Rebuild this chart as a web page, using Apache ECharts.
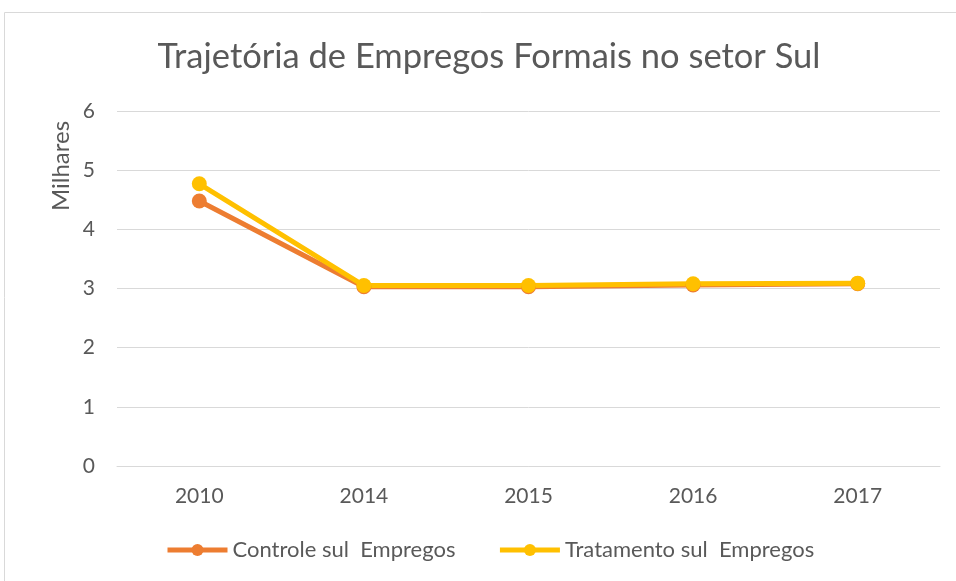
<!DOCTYPE html>
<html><head><meta charset="utf-8">
<script src="https://cdn.jsdelivr.net/npm/echarts@6/dist/echarts.min.js"></script>
<style>html,body{margin:0;padding:0;background:#fff}#c{width:956px;height:581px}</style>
</head><body><div id="c"></div>
<script>
const categories = ['2010','2014','2015','2016','2017'];
const controle = [4.48, 3.03, 3.03, 3.06, 3.08];
const tratamento = [4.77, 3.05, 3.05, 3.08, 3.09];
const yTicks = [0,1,2,3,4,5,6];

const chart = echarts.init(document.getElementById('c'));
const font = 'Lato';
chart.setOption({
  animation: false,
  graphic: [
    {type:'rect', shape:{x:4.5,y:12.5,width:1000,height:1000}, style:{fill:'none', stroke:'#d9d9d9', lineWidth:1}},
    {type:'text', x:61, y:166, rotation:Math.PI/2, style:{text:'Milhares', fontFamily:font, fontSize:24, fill:'#595959', align:'center', verticalAlign:'middle'}},
    {type:'text', x:489, y:57, style:{text:'Trajetória de Empregos Formais no setor Sul', fontFamily:font, fontSize:34.5, fill:'#595959', align:'center', verticalAlign:'middle'}}
  ],
  grid: {left:117, right:16, top:111, bottom:115, outerBoundsMode:'none'},
  legend: {bottom:15, left:160, itemWidth:60, itemHeight:15, itemGap:42,
    lineStyle:{width:5},
    textStyle:{fontFamily:font, fontSize:22, color:'#595959'},
    data:['Controle sul  Empregos','Tratamento sul  Empregos']},
  xAxis: {type:'category', data:categories, boundaryGap:true,
    axisLine:{lineStyle:{color:'#d9d9d9', width:1}}, axisTick:{show:false},
    axisLabel:{fontFamily:font, fontSize:21, color:'#595959', margin:20}},
  yAxis: {type:'value', min:yTicks[0], max:yTicks[yTicks.length-1], interval:1,
    axisLine:{show:false}, axisTick:{show:false},
    splitLine:{lineStyle:{color:'#d9d9d9', width:1}},
    axisLabel:{fontFamily:font, fontSize:21, color:'#595959', margin:22}},
  series: [
    {name:'Controle sul  Empregos', type:'line', data:controle, symbol:'circle', symbolSize:15,
      lineStyle:{width:5, color:'#ED7D31'}, itemStyle:{color:'#ED7D31'}},
    {name:'Tratamento sul  Empregos', type:'line', data:tratamento, symbol:'circle', symbolSize:15,
      lineStyle:{width:5, color:'#FFC000'}, itemStyle:{color:'#FFC000'}}
  ]
});
</script></body></html>
